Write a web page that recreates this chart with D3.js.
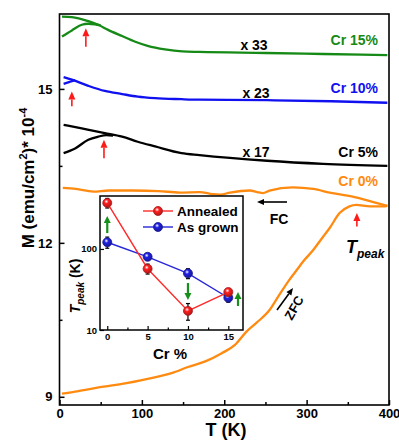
<!DOCTYPE html>
<html>
<head>
<meta charset="utf-8">
<script src="https://cdn.jsdelivr.net/npm/d3@7"></script>
<style>
  body { margin: 0; background: #fff; }
  text { font-family: Arial, "Liberation Sans", sans-serif; font-weight: bold; }
</style>
</head>
<body>
<div id="chart"></div>
<script>
/* ------------------------------------------------------------------
 Data: M(T) curves (FC and ZFC) for each Cr doping, already scaled
 ------------------------------------------------------------------ */
var green_fc = [[3,16.41],[15,16.40],[35,16.32],[47,16.25],[59,16.15],[76,16.03],[92,15.92],[107,15.84],[128,15.77],[149,15.73],[170,15.72],[250,15.70],[320,15.68],[398,15.66]];
var green_zfc = [[3,16.02],[15,16.14],[27,16.25],[35,16.27],[43,16.26],[50,16.24]];
var blue_fc = [[5,15.23],[15,15.18],[35,15.06],[55,14.96],[76,14.90],[95,14.85],[116,14.82],[148,14.80],[170,14.79],[252,14.78],[330,14.76],[398,14.73]];
var blue_zfc = [[5,15.10],[13,15.14],[19,15.17]];
var black_fc = [[5,14.30],[27,14.23],[55,14.14],[76,14.07],[95,13.97],[116,13.88],[148,13.75],[170,13.71],[252,13.60],[320,13.54],[398,13.50]];
var black_zfc = [[5,13.75],[19,13.84],[35,14.01],[47,14.07],[57,14.10],[65,14.09]];
var orange_fc = [[4,13.07],[20,13.05],[41,13.00],[60,13.02],[89,13.02],[120,13.01],[146,12.98],[170,12.99],[186,12.95],[195,12.94],[207,12.98],[231,13.02],[240,12.99],[247,12.97],[255,13.02],[283,13.08],[308,13.05],[328,12.98],[356,12.90],[380,12.80],[398,12.72]];
var orange_zfc = [[3,9.06],[19,9.10],[43,9.17],[76,9.25],[107,9.35],[136,9.46],[156,9.58],[177,9.69],[197,9.85],[213,10.01],[227,10.27],[239,10.44],[255,10.69],[267,10.99],[279,11.28],[288,11.47],[296,11.64],[308,11.86],[320,12.12],[328,12.29],[340,12.58],[352,12.71],[360,12.74],[377,12.71],[393,12.71],[398,12.72]];

// peak arrows: [T, tip M, base M]
var peakArrows = [[32,16.18,15.82],[15,14.95,14.66],[54,14.01,13.65],[361,12.58,12.32]];

var xTicks = [0,100,200,300,400];
var yTicks = [9,12,15];

// inset: Tpeak vs Cr %
var cr = [0,5,10,15];
var annealed = [370,57,17.2,29.4];
var annealedErr = [50,8,4,3];
var grown = [121,80,50,25];
var grownErr = [19,7,7,3];
// green arrows in inset: [Cr, from K, to K]
var shiftArrows = [[0,157,255],[10,38,23.4],[16.2,19.8,29.5]];

var w = 399, h = 442;

var svg = d3.select("#chart").append("svg")
  .attr("width", w).attr("height", h);

var x = d3.scaleLinear().domain([0,400]).range([59.5,389]);
var y = d3.scaleLinear().domain([8.84,16.46]).range([405,14]);

var line = d3.line().curve(d3.curveMonotoneX)
  .x(function(d){ return x(d[0]); }).y(function(d){ return y(d[1]); });

var curves = [
  {d: green_fc, c: "#168a16"}, {d: green_zfc, c: "#168a16"},
  {d: blue_fc, c: "#1010f0"}, {d: blue_zfc, c: "#1010f0"},
  {d: black_fc, c: "#000"}, {d: black_zfc, c: "#000"},
  {d: orange_fc, c: "#ff8a10"}, {d: orange_zfc, c: "#ff8a10"}
];

svg.selectAll("path.curve").data(curves).enter().append("path")
  .attr("class","curve")
  .attr("d", function(d){ return line(d.d); })
  .attr("fill","none")
  .attr("stroke", function(d){ return d.c; })
  .attr("stroke-width", 2.3)
  .attr("stroke-linejoin","round");

// simple arrow: stem + filled triangle head at (x2,y2)
function arrow(g, x1, y1, x2, y2, color, sw, hl, hw) {
  var a = Math.atan2(y2-y1, x2-x1);
  var bx = x2 - hl*Math.cos(a), by = y2 - hl*Math.sin(a);
  g.append("line").attr("x1",x1).attr("y1",y1).attr("x2",bx).attr("y2",by)
    .attr("stroke",color).attr("stroke-width",sw);
  var px = -Math.sin(a)*hw, py = Math.cos(a)*hw;
  g.append("polygon")
    .attr("points", [[x2,y2],[bx+px,by+py],[bx-px,by-py]].map(function(p){ return p.join(","); }).join(" "))
    .attr("fill",color);
}

peakArrows.forEach(function(p){
  arrow(svg, x(p[0]), y(p[2]), x(p[0]), y(p[1]), "#ff1a1a", 1.6, 8, 3.5);
});

// frame
svg.append("rect").attr("x",59.5).attr("y",14).attr("width",389-59.5).attr("height",405-14)
  .attr("fill","none").attr("stroke","#000").attr("stroke-width",1.6);

// axes with inward ticks
svg.append("g").attr("transform","translate(0,405)")
  .call(d3.axisBottom(x).tickValues(xTicks).tickSize(-5).tickPadding(4).tickFormat(d3.format("d")));
svg.append("g").attr("transform","translate(0,405)")
  .call(d3.axisBottom(x).tickValues([50,150,250,350]).tickSize(-3).tickFormat(""));
svg.append("g").attr("transform","translate(59.5,0)")
  .call(d3.axisLeft(y).tickValues(yTicks).tickSize(-5).tickPadding(7).tickFormat(d3.format("d")));
svg.append("g").attr("transform","translate(59.5,0)")
  .call(d3.axisLeft(y).tickValues([10.5,13.5]).tickSize(-3).tickFormat(""));
svg.selectAll(".domain").remove();
svg.selectAll(".tick line").attr("stroke-width",1.5);
svg.selectAll(".tick text").attr("font-size",13).attr("fill","#000");

// axis titles
svg.append("text").attr("x",226).attr("y",436).attr("text-anchor","middle")
  .attr("font-size",18).text("T (K)");
var yl = svg.append("text").attr("transform","translate(34,178) rotate(-90)")
  .attr("text-anchor","middle").attr("font-size",17);
yl.append("tspan").text("M (emu/cm");
yl.append("tspan").attr("font-size",11).attr("dy",-7).text("2");
yl.append("tspan").attr("dy",7).text(")* 10");
yl.append("tspan").attr("font-size",11).attr("dy",-7).text("-4");

// labels
var labels = [
  {t:"x 33", x:254, y:50, c:"#000", a:"middle"},
  {t:"x 23", x:256, y:98, c:"#000", a:"middle"},
  {t:"x 17", x:256, y:157, c:"#000", a:"middle"},
  {t:"Cr 15%", x:378, y:45, c:"#168a16", a:"end"},
  {t:"Cr 10%", x:378, y:93, c:"#1010f0", a:"end"},
  {t:"Cr 5%", x:378, y:157, c:"#000", a:"end"},
  {t:"Cr 0%", x:378, y:186, c:"#ff8a10", a:"end"}
];
svg.selectAll("text.lbl").data(labels).enter().append("text")
  .attr("class","lbl")
  .attr("x", function(d){ return d.x; }).attr("y", function(d){ return d.y; })
  .attr("text-anchor", function(d){ return d.a; })
  .attr("fill", function(d){ return d.c; })
  .attr("font-size",14).text(function(d){ return d.t; });

arrow(svg, 287, 202, 257, 202, "#000", 1.6, 7, 3);
svg.append("text").attr("x",279).attr("y",224).attr("text-anchor","middle").attr("font-size",14).text("FC");

var tp = svg.append("text").attr("x",346).attr("y",253).attr("font-size",18).attr("font-style","italic");
tp.append("tspan").text("T");
tp.append("tspan").attr("font-size",12).attr("dy",5).text("peak");

arrow(svg, 277, 310, 293, 288, "#000", 1.6, 7, 3);
svg.append("text").attr("transform","translate(298,310) rotate(-60)")
  .attr("text-anchor","middle").attr("font-size",13).text("ZFC");

/* ------------------------------------------------------------------
 Inset
 ------------------------------------------------------------------ */
var ix = d3.scaleLinear().domain([-0.9,16.82]).range([100,243]);
var iy = d3.scaleLog().domain([10,450]).range([330,196]);

var ins = svg.append("g");
ins.append("rect").attr("x",100).attr("y",196).attr("width",143).attr("height",134)
  .attr("fill","#fff").attr("stroke","#000").attr("stroke-width",1.5);

ins.append("g").attr("transform","translate(0,330)")
  .call(d3.axisBottom(ix).tickValues(cr).tickSize(-4).tickPadding(3).tickFormat(d3.format("d")));
ins.append("g").attr("transform","translate(0,330)")
  .call(d3.axisBottom(ix).tickValues([2.5,7.5,12.5]).tickSize(-2.5).tickFormat(""));
ins.append("g").attr("transform","translate(100,0)")
  .call(d3.axisLeft(iy).tickValues([10,100]).tickSize(-4).tickPadding(3).tickFormat(d3.format("d")));
ins.selectAll(".domain").remove();
ins.selectAll(".tick text").attr("font-size",9.5).attr("fill","#000");
ins.selectAll(".tick line").attr("stroke-width",1.2);

ins.append("text").attr("x",170).attr("y",359).attr("text-anchor","middle").attr("font-size",15).text("Cr %");
var il = ins.append("text").attr("transform","translate(80,286) rotate(-90)")
  .attr("text-anchor","middle").attr("font-size",14);
il.append("tspan").attr("font-style","italic").text("T");
il.append("tspan").attr("font-style","italic").attr("font-size",10).attr("dy",4).text("peak");
il.append("tspan").attr("dy",-4).text(" (K)");

// ball gradients
var defs = svg.append("defs");
function ball(id, c) {
  var g = defs.append("radialGradient").attr("id",id).attr("cx","40%").attr("cy","35%").attr("r","65%");
  g.append("stop").attr("offset","0%").attr("stop-color","#fff");
  g.append("stop").attr("offset","35%").attr("stop-color",c);
  g.append("stop").attr("offset","100%").attr("stop-color",d3.color(c).darker(1));
}
ball("gr","#ff2020");
ball("gb","#2020e0");

var series = [
  {v: grown, e: grownErr, c: "#2626d8", g: "url(#gb)"},
  {v: annealed, e: annealedErr, c: "#ff2a2a", g: "url(#gr)"}
];
var iline = d3.line().x(function(d){ return ix(d[0]); }).y(function(d){ return iy(d[1]); });

series.forEach(function(s){
  var pts = cr.map(function(c,i){ return [c, s.v[i], s.e[i]]; });
  ins.append("path").attr("d", iline(pts)).attr("fill","none").attr("stroke",s.c).attr("stroke-width",1.4);
  var eb = ins.selectAll(null).data(pts).enter().append("g");
  eb.append("line")
    .attr("x1",function(d){ return ix(d[0]); }).attr("x2",function(d){ return ix(d[0]); })
    .attr("y1",function(d){ return iy(d[1]-d[2]); }).attr("y2",function(d){ return iy(d[1]+d[2]); })
    .attr("stroke","#000").attr("stroke-width",1.2);
  [-1,1].forEach(function(sg){
    eb.append("line")
      .attr("x1",function(d){ return ix(d[0])-2; }).attr("x2",function(d){ return ix(d[0])+2; })
      .attr("y1",function(d){ return iy(d[1]+sg*d[2]); }).attr("y2",function(d){ return iy(d[1]+sg*d[2]); })
      .attr("stroke","#000").attr("stroke-width",1.2);
  });
  ins.selectAll(null).data(pts).enter().append("circle")
    .attr("cx",function(d){ return ix(d[0]); }).attr("cy",function(d){ return iy(d[1]); })
    .attr("r",4.5).attr("fill",s.g).attr("stroke",d3.color(s.c).darker(1.2)).attr("stroke-width",0.8);
});

shiftArrows.forEach(function(a){
  arrow(ins, ix(a[0]), iy(a[1]), ix(a[0]), iy(a[2]), "#16901a", 2.2, 7, 3.5);
});

// legend
var leg = [{t:"Annealed", s: series[1], y:211}, {t:"As grown", s: series[0], y:227}];
leg.forEach(function(l){
  ins.append("line").attr("x1",143).attr("x2",173).attr("y1",l.y).attr("y2",l.y)
    .attr("stroke",l.s.c).attr("stroke-width",1.4);
  ins.append("circle").attr("cx",158).attr("cy",l.y).attr("r",4.5)
    .attr("fill",l.s.g).attr("stroke",d3.color(l.s.c).darker(1.2)).attr("stroke-width",0.8);
  ins.append("text").attr("x",177).attr("y",l.y+5).attr("font-size",13.5).text(l.t);
});
</script>
</body>
</html>
